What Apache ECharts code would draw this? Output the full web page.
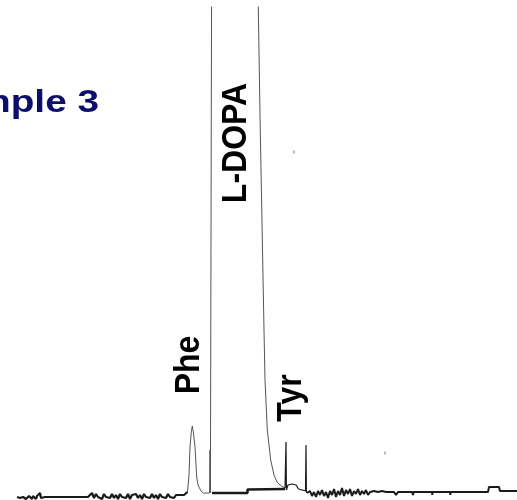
<!DOCTYPE html>
<html>
<head>
<meta charset="utf-8">
<script src="https://cdn.jsdelivr.net/npm/echarts@6/dist/echarts.min.js"></script>
<style>html,body{margin:0;padding:0;background:#fff}#c{width:517px;height:500px}</style>
</head>
<body>
<div id="c"></div>
<script>
// Chromatogram trace: [time (min), signal] pairs
const baselineStart = [
  [0.0,3],[0.1,1],[0.2,4],[0.3,2],[0.4,4],[0.5,1],[0.6,3],[0.7,2],[0.8,4],[0.9,1],
  [1.0,3],[1.1,2],[1.2,4],[1.3,2],[1.4,3],[1.5,1],[1.6,4],[1.7,2],[1.8,3],[1.9,1],
  [2.0,4],[2.1,2],[2.2,3],[2.3,7],[2.4,2],[2.5,3],[2.6,3],
  [2.8,3],[4.5,3],[7.1,3]
];
const noiseValuesA = [4,7,2,6,3,5,1,6,3,5,2,6,2,5,1,6,3,5,2,6,1,5,3,6,2,5,1,6,3,5,2,6,2,5,1,6,3,5,2,6,3,5,2,5,4,5,4,5,5];
const noiseStartA = 7.3, noiseStepA = 0.2;
const phePeak = [
  [17.05,8],[17.2,25],[17.3,53],[17.43,68],[17.53,74],[17.63,68],[17.8,53],
  [17.97,23],[18.1,15],[18.23,13],[18.4,9],[18.63,7]
];
const ldopaPeak = [
  [19.26,7],[19.3,50],[19.34,7],[19.46,7],[19.52,7],[19.55,900],[21.8,1200],
  [24.05,600],[24.13,493],[24.3,385],[24.55,250],[24.7,170],[24.8,120],[25.03,70],
  [25.37,40],[25.7,25],[26.0,18],[26.3,15],[26.6,13],[26.8,12]
];
const tyrPeak = [
  [26.86,11],[26.9,58],[26.94,10],[27.0,11],[27.1,15],[27.3,17],[27.5,16],[27.7,18],
  [27.9,15],[28.05,16],[28.15,11],[28.3,12],[28.5,10],[28.6,12],[28.7,9],[28.85,9],
  [28.9,55],[28.94,8],[29.0,7]
];
const noiseValuesB = [6,9,4,8,3,9,5,10,4,8,2,9,5,11,3,9,5,12,4,10,6,11,4,9,6,11,5,9,6,10,5,8,6,9,7,8,7,9,7,8,7,8,7,8,5,8];
const noiseStartB = 29.1, noiseStepB = 0.2;
const baselineEnd = [
  [39.5,8],[39.6,5],[39.65,8],[41.5,8],[41.53,5],[41.56,8],[43.3,8],[43.33,5],[43.36,8],
  [47.1,8],[47.2,13],[48.2,13],[48.3,9],[50.0,9]
];
const integrationBaseline = [[19.5,7],[23.05,7],[23.05,10.5],[26.8,11]];
const artifacts = [[27.7,348],[36.8,47]];
const peakLabels = [
  {text:'Phe', t:17.25, v:135},
  {text:'L-DOPA', t:21.95, v:357},
  {text:'Tyr', t:27.4, v:102}
];
const titleText = 'Sample 3';

function expand(vals, start, step){
  return vals.map((v,i)=>[+(start+i*step).toFixed(3), v]);
}
const leftPart = [].concat(baselineStart, expand(noiseValuesA, noiseStartA, noiseStepA), [phePeak[0]]);
const pheLdopaPart = [].concat(phePeak, ldopaPeak);
const tyrPart = [].concat([ldopaPeak[ldopaPeak.length-1]], tyrPeak);
const rightPart = [].concat([tyrPeak[tyrPeak.length-1]], expand(noiseValuesB, noiseStartB, noiseStepB), baselineEnd);

const chart = echarts.init(document.getElementById('c'));
const traceColor = '#1a1a1a';
chart.setOption({
  animation:false,
  backgroundColor:'#fff',
  grid:{left:17,right:0,top:7,bottom:0},
  xAxis:{type:'value',min:0,max:50,show:false},
  yAxis:{type:'value',min:0,max:493,show:false},
  series:[
    {type:'line',data:leftPart,showSymbol:false,lineStyle:{color:traceColor,width:2.2}},
    {type:'line',data:pheLdopaPart,showSymbol:false,clip:true,lineStyle:{color:'#555',width:1}},
    {type:'line',data:tyrPart,showSymbol:false,lineStyle:{color:traceColor,width:1.2}},
    {type:'line',data:rightPart,showSymbol:false,lineStyle:{color:traceColor,width:2}},
    {type:'line',data:integrationBaseline,showSymbol:false,lineStyle:{color:traceColor,width:2.5}},
    {type:'scatter',data:artifacts,symbol:'rect',symbolSize:[1,3],itemStyle:{color:'#555'}}
  ]
});

const font = 'bold 32px "Liberation Sans", Arial, sans-serif';
const graphics = peakLabels.map(l=>{
  const p = chart.convertToPixel({gridIndex:0},[l.t,l.v]);
  return {type:'text',x:p[0],y:p[1],rotation:Math.PI/2,scaleY:1.1,
    style:{text:l.text,font:font,fill:'#000',textAlign:'center',textVerticalAlign:'middle',
           align:'center',verticalAlign:'middle'}};
});
graphics.push({type:'text',x:99,y:103.5,scaleX:1.25,
  style:{text:titleText,font:'bold 31px "Liberation Sans", Arial, sans-serif',fill:'#0d0d6b',
         textAlign:'right',textVerticalAlign:'middle',align:'right',verticalAlign:'middle'}});
chart.setOption({graphic:graphics});
</script>
</body>
</html>
